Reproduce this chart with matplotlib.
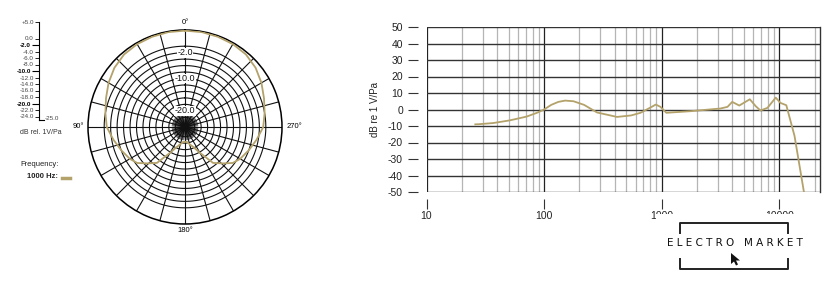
import numpy as np
import matplotlib
matplotlib.use('Agg')
import matplotlib.pyplot as plt
from matplotlib.lines import Line2D
from matplotlib.patches import Rectangle, Polygon
from matplotlib.ticker import LogLocator, NullFormatter

plt.rcParams['font.family'] = ['Liberation Sans', 'DejaVu Sans']
plt.rcParams['axes.unicode_minus'] = False

# ---------------- data ----------------
polar_angles_deg = [0, 10, 20, 30, 40, 50, 60, 70, 80, 90, 100, 110, 120, 127,
                    134, 142, 150, 157, 165, 172, 180]
polar_db = [4.8, 4.8, 4.7, 4.6, 4.3, 3.5, 2.3, 1.0, 0.0, -0.8, -2.5, -4.0, -5.3,
            -6.5, -8.8, -10.9, -15.8, -18.2, -19.5, -20.3, -20.4]
ring_levels = [0, -2, -4, -6, -8, -10, -12, -14, -16, -18, -20, -22, -24]
ring_labels = {-2: '-2.0', -10: '-10.0', -20: '-20.0'}
scale_ticks = [5, 0, -2, -4, -6, -8, -10, -12, -14, -16, -18, -20, -22, -24]
scale_bold = [-2, -10, -20]

freq_hz = [26, 28, 37, 51, 71, 87, 100, 115, 132, 151, 178, 219, 282, 417, 550,
           661, 794, 891, 977, 1096, 1778, 3162, 3631, 3981, 4571, 5623, 6310,
           6918, 7943, 9333, 10233, 11482, 13490, 16218]
resp_db = [-9.0, -8.9, -8.2, -6.6, -4.3, -2.0, 0.0, 2.8, 4.6, 5.4, 5.0, 2.8, -1.8,
           -4.5, -3.6, -2.0, 1.0, 3.0, 1.6, -2.0, -1.0, 0.6, 1.6, 4.6, 2.4, 6.2,
           2.0, -0.6, 1.0, 7.2, 4.0, 2.6, -16.0, -50.0]
x_ticks = [10, 100, 1000, 10000]
x_ticklabels = ['10', '100', '1000', '10000']
y_ticks = [50, 40, 30, 20, 10, 0, -10, -20, -30, -40, -50]

OLIVE = '#b4a26b'
W, H = 840, 282
fig = plt.figure(figsize=(W / 100, H / 100), dpi=100)


def fx(px):
    return px / W


def fy(py):
    return 1 - py / H


# ---------------- polar chart ----------------
cx, cy, R = 185, 127, 97
axp = fig.add_axes([fx(cx - R), fy(cy + R), 2 * R / W, 2 * R / H], projection='polar')
axp.set_theta_zero_location('N')
axp.set_theta_direction(1)
axp.set_rlim(-25, 5)
axp.set_xticks([])
axp.set_yticks([])
axp.grid(False)
axp.spines['polar'].set_linewidth(1.1)
th = np.linspace(0, 2 * np.pi, 361)
for lvl in ring_levels:
    axp.plot(th, np.full_like(th, lvl), color='#111111', lw=0.8, zorder=1)
for a in range(0, 360, 15):
    axp.plot([np.radians(a)] * 2, [-25, 5], color='#111111', lw=0.8, zorder=1)
for a in range(0, 360, 5):
    axp.plot([np.radians(a)] * 2, [-25, -21], color='#111111', lw=0.5, zorder=1)

ang = np.array(polar_angles_deg, dtype=float)
full_ang = np.concatenate([ang, 360 - ang[::-1][1:]])
full_db = np.concatenate([polar_db, polar_db[::-1][1:]])
axp.plot(np.radians(full_ang), full_db, color=OLIVE, lw=1.3, zorder=3)
for lvl, lab in ring_labels.items():
    axp.text(0, lvl, lab, ha='center', va='center', fontsize=6.5, color='#111111',
             zorder=4, bbox=dict(boxstyle='square,pad=0.05', fc='white', ec='none'))

fig.text(fx(cx), fy(23), '0°', ha='center', va='center', fontsize=5.5)
fig.text(fx(cx), fy(230), '180°', ha='center', va='center', fontsize=5.5)
fig.text(fx(78), fy(127), '90°', ha='center', va='center', fontsize=5.5)
fig.text(fx(294), fy(127), '270°', ha='center', va='center', fontsize=5.5)

# ---------------- scale bar ----------------
axs = fig.add_axes([fx(39), fy(119.75), 5 / W, (119.75 - 22.25) / H])
axs.set_xlim(0, 1)
axs.set_ylim(-25, 5)
for s in ['top', 'right']:
    axs.spines[s].set_visible(False)
axs.spines['left'].set_linewidth(0.8)
axs.spines['bottom'].set_linewidth(0.8)
axs.patch.set_alpha(0)
axs.set_xticks([])
norm_ticks = [t for t in scale_ticks if t not in scale_bold]
axs.set_yticks(scale_bold, labels=['%.1f' % t for t in scale_bold])
axs.set_yticks(norm_ticks, labels=[('+%.1f' % t) if t > 0 else '%.1f' % t for t in norm_ticks],
               minor=True)
axs.tick_params(axis='y', which='major', length=5, width=0.8, labelsize=4.5, pad=0.8)
axs.tick_params(axis='y', which='minor', length=3, width=0.6, labelsize=4.5, pad=0.8,
                labelcolor='#444444')
for lab in axs.get_yticklabels():
    lab.set_fontweight('bold')
fig.text(fx(45), fy(119), '-25.0', ha='left', va='center', fontsize=4.5, color='#444444')
fig.text(fx(20), fy(132), 'dB rel. 1V/Pa', ha='left', va='center', fontsize=5, color='#333333')
fig.text(fx(20), fy(164), 'Frequency:', ha='left', va='center', fontsize=5.5, color='#222222')
fig.text(fx(27), fy(177), '1000 Hz:', ha='left', va='center', fontsize=5.5, color='#222222',
         fontweight='bold')
fig.add_artist(Line2D([fx(62), fx(70)], [fy(177.5)] * 2, color=OLIVE, lw=2.5))

# ---------------- frequency response ----------------
L, Rr, T, B = 426.5, 819.5, 27, 192
ax = fig.add_axes([fx(L), fy(B), (Rr - L) / W, (B - T) / H])
ax.set_xscale('log')
ax.set_xlim(10, 22000)
ax.set_ylim(-50, 50)
ax.plot(freq_hz, resp_db, color=OLIVE, lw=1.3, zorder=3)
ax.set_xticks(x_ticks, labels=x_ticklabels)
ax.xaxis.set_minor_locator(LogLocator(base=10, subs=np.arange(2, 10)))
ax.xaxis.set_minor_formatter(NullFormatter())
ax.set_yticks(y_ticks)
ax.grid(which='major', axis='x', color='#222222', lw=0.9)
ax.grid(which='minor', axis='x', color='#b5b5b5', lw=0.9)
ax.grid(which='major', axis='y', color='#333333', lw=1.0)
ax.set_axisbelow(True)
ax.tick_params(which='minor', length=0)
ax.tick_params(which='major', length=7, width=0.8, color='#333333', labelsize=7.5,
               labelcolor='#222222')
ax.tick_params(axis='y', pad=4)
ax.tick_params(axis='x', pad=1.5)
ax.spines['top'].set_visible(False)
ax.spines['right'].set_color('#333333')
ax.spines['right'].set_linewidth(1.0)
ax.spines['left'].set_position(('outward', 6))
ax.spines['left'].set_visible(False)
ax.spines['bottom'].set_position(('outward', 5))
ax.spines['bottom'].set_visible(False)
ax.set_ylabel('dB re 1 V/Pa', fontsize=7, color='#222222')
ax.yaxis.set_label_coords((380 - L) / (Rr - L), 0.5)

# ---------------- watermark ----------------
fig.add_artist(Rectangle((fx(656), 0), fx(812) - fx(656), fy(213.5), transform=fig.transFigure,
                         fc='white', ec='none', zorder=10))
wm = dict(color='#222222', lw=1.4, zorder=11)
fig.add_artist(Line2D([fx(680), fx(680), fx(788), fx(788)],
                      [fy(233), fy(223), fy(223), fy(233)], **wm))
fig.add_artist(Line2D([fx(680), fx(680), fx(788), fx(788)],
                      [fy(259), fy(269), fy(269), fy(259)], **wm))
fig.text(fx(735), fy(243), 'E L E C T R O   M A R K E T', ha='center', va='center',
         fontsize=7.5, color='#111111', zorder=12, family=['DejaVu Sans'])
fig.add_artist(Polygon([(fx(731), fy(253)), (fx(731), fy(264)), (fx(734), fy(261.5)),
                        (fx(736), fy(265.5)), (fx(738), fy(264.5)), (fx(736), fy(260.5)),
                        (fx(740), fy(260.5))], closed=True, transform=fig.transFigure,
                       fc='#111111', ec='none', zorder=12))

fig.savefig('out.png', dpi=100)
